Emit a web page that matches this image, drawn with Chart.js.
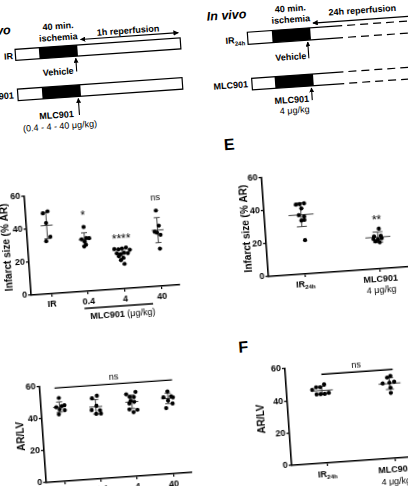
<!DOCTYPE html>
<html>
<head>
<meta charset="utf-8">
<title>MLC901 infarct size</title>
<script src="https://cdn.jsdelivr.net/npm/chart.js@4.4.1/dist/chart.umd.min.js"></script>
<style>
  html, body { margin: 0; padding: 0; background: #fff; overflow: hidden; }
  body { width: 408px; height: 486px; position: relative; }
  /* the whole figure sits slightly tilted in the reference */
  #page { position: absolute; left: 0; top: 0; width: 408px; height: 486px;
          transform-origin: 204px 243px; transform: rotate(-4deg); }
  .box { position: absolute; }
  #scheme { position: absolute; left: 0; top: 0; overflow: visible; }
  #scheme text { font-family: "Liberation Sans", Arial, sans-serif; font-size: 9px; font-weight: bold; fill: #000; }
  #scheme .plain { font-weight: normal; }
</style>
</head>
<body>
<div id="page">
  <svg id="scheme" width="408" height="360">
    <defs>
      <marker id="head" viewBox="0 0 10 10" refX="9" refY="5" markerWidth="4.5" markerHeight="4.5" orient="auto-start-reverse">
        <path d="M0,0 L10,5 L0,10 z" fill="#000"/>
      </marker>
    </defs>
    <!-- left protocol -->
    <text x="26" y="21" text-anchor="end" style="font-size:12.5px;font-style:italic">In vivo</text>
    <text x="73.5" y="19.5" text-anchor="middle">40 min.</text>
    <text x="73" y="30.8" text-anchor="middle">ischemia</text>
    <text x="143" y="28.7" text-anchor="middle">1h reperfusion</text>
    <line x1="95" y1="31.4" x2="193" y2="31.4" stroke="#000" stroke-width="1.2" marker-start="url(#head)" marker-end="url(#head)"/>
    <text x="26.5" y="46.2" text-anchor="end">IR</text>
    <rect x="29" y="36.7" width="165.5" height="11" fill="#fff" stroke="#000" stroke-width="1.2"/>
    <rect x="52.8" y="36.7" width="38.5" height="11" fill="#000"/>
    <line x1="89" y1="63" x2="89" y2="49.8" stroke="#000" stroke-width="1.1" marker-end="url(#head)"/>
    <text x="86" y="65.1" text-anchor="end">Vehicle</text>
    <text x="24.5" y="85.5" text-anchor="end">MLC901</text>
    <rect x="28.6" y="76.5" width="165" height="11.5" fill="#fff" stroke="#000" stroke-width="1.2"/>
    <rect x="53" y="76.5" width="38.6" height="11.5" fill="#000"/>
    <line x1="88.7" y1="106.6" x2="88.7" y2="90" stroke="#000" stroke-width="1.1" marker-end="url(#head)"/>
    <text x="65.9" y="108.2" text-anchor="middle">MLC901</text>
    <text class="plain" x="68.5" y="119.4" text-anchor="middle">(0.4 - 4 - 40 μg/kg)</text>

    <!-- right protocol -->
    <text x="222.6" y="21.5" style="font-size:12.5px;font-style:italic">In vivo</text>
    <text x="306.5" y="18.1" text-anchor="middle">40 min.</text>
    <text x="306.1" y="29.1" text-anchor="middle">ischemia</text>
    <text x="378.2" y="24.8" text-anchor="middle">24h reperfusion</text>
    <line x1="328" y1="31.2" x2="445" y2="31.2" stroke="#000" stroke-width="1.2" marker-start="url(#head)" marker-end="url(#head)"/>
    <text x="259" y="46" text-anchor="end">IR<tspan dy="2.5" style="font-size:6px">24h</tspan></text>
    <path d="M357,35.8 H261.9 V47.8 H357" fill="#fff" stroke="#000" stroke-width="1.2"/>
    <path d="M357,35.8 H445 M357,47.8 H445" fill="none" stroke="#000" stroke-width="1.2" stroke-dasharray="8 5" stroke-dashoffset="-5"/>
    <rect x="286.4" y="35.8" width="38.5" height="12" fill="#000"/>
    <line x1="321.5" y1="66" x2="321.5" y2="49.8" stroke="#000" stroke-width="1.1" marker-end="url(#head)"/>
    <text x="319" y="66.4" text-anchor="end">Vehicle</text>
    <text x="259" y="90.7" text-anchor="end">MLC901</text>
    <path d="M355,82 H263 V93.7 H355" fill="#fff" stroke="#000" stroke-width="1.2"/>
    <path d="M355,82 H445 M355,93.7 H445" fill="none" stroke="#000" stroke-width="1.2" stroke-dasharray="8 5" stroke-dashoffset="-5"/>
    <rect x="286" y="82" width="38.5" height="11.7" fill="#000"/>
    <line x1="322" y1="108" x2="322" y2="95.8" stroke="#000" stroke-width="1.1" marker-end="url(#head)"/>
    <text x="301.5" y="109.4" text-anchor="middle">MLC901</text>
    <text class="plain" x="303.7" y="119.9" text-anchor="middle">4 μg/kg</text>

    <text x="236" y="151.8" text-anchor="middle" style="font-size:16px">E</text>
    <text x="236" y="355" text-anchor="middle" style="font-size:16px">F</text>
  </svg>

  <div class="box"><canvas id="doseInfarct"></canvas></div>
  <div class="box"><canvas id="longInfarct"></canvas></div>
  <div class="box"><canvas id="doseArea"></canvas></div>
  <div class="box"><canvas id="longArea"></canvas></div>
</div>

<script>
const FONT = '"Liberation Sans", Arial, sans-serif'

// ===== infarct size by MLC901 dose (1h reperfusion) =====
const doseLabels = ["IR", "0.4", "4", "40"]
const infarctByDose = [
  [50, 49, 43, 34.5, 32],
  [39, 31.6, 32.2, 32, 30.2, 28.2, 27.2],
  [24.3, 24.0, 24.4, 24.8, 23.3, 21.6, 21.0, 21.8, 21.3, 19.8, 18.7, 17.4, 15.0],
  [45.9, 36.6, 33.1, 32.5, 31, 22.7]
]
const infarctByDoseJitter = [
  [0.05, -0.08, -0.01, 0.08, -0.04],
  [0.0, -0.08, 0.05, 0.13, 0.0, 0.03, -0.02],
  [-0.21, -0.1, 0.0, 0.11, 0.21, -0.15, -0.05, 0.05, 0.15, -0.1, 0.02, -0.05, 0.04],
  [-0.01, 0.04, -0.08, -0.02, 0.07, 0.03]
]
const infarctByDoseMean = [41.5, 31.5, 21.3, 34]
const infarctByDoseSD = [8, 4, 3, 7.6]
const infarctByDoseStars = ["", "*", "****", "ns"]
const infarctByDoseStarLevel = [null, 47.8, 32.1, 53.6]

// ===== infarct size after 24h reperfusion (E) =====
const longLabels = ["IR", "MLC901"]
const longLabelSubs = ["24h", ""]
const longLabelNotes = ["", "4 μg/kg"]
const infarctLong = [
  [42.3, 42.5, 42.8, 39.8, 35.8, 34.8, 32.5, 32.8, 20.5],
  [24.3, 19.8, 20.0, 18.2, 17.8, 18.4, 16.8, 16.0]
]
const infarctLongJitter = [
  [-0.06, -0.01, 0.05, 0.01, -0.03, 0.04, 0.0, 0.04, 0.03],
  [0.02, -0.05, 0.04, -0.06, 0.0, 0.05, -0.035, 0.02]
]
const infarctLongMean = [36, 19.2]
const infarctLongSD = [7.2, 3.2]
const infarctLongStars = ["", "**"]
const infarctLongStarLevel = [null, 31.6]

// ===== AR/LV by dose =====
const areaByDose = [
  [52.2, 46.5, 47, 47.5, 45, 44.3, 42],
  [51.9, 50.5, 45.7, 43.2, 42.8, 40.7, 40.7],
  [51.5, 52.6, 49.8, 49.5, 47.3, 45.7, 46.5, 42, 41.4, 40.1],
  [51.5, 48, 48.4, 47.6, 45.8, 43.8, 41.2]
]
const areaByDoseJitter = [
  [0, -0.09, 0.065, 0.14, 0, 0.14, -0.03],
  [0.05, -0.09, 0.02, -0.12, 0.11, 0, 0.13],
  [-0.14, 0.12, -0.05, 0.065, -0.03, -0.07, 0.065, -0.08, 0.14, 0.03],
  [0, -0.12, 0.09, 0.14, 0.0, 0.12, -0.065]
]
const areaByDoseMean = [46.5, 45.1, 46.6, 47.2]
const areaByDoseSD = [3.2, 4.5, 4.2, 3.3]
const areaByDoseNs = { from: -0.1, to: 3.15, level: 58.5, textAt: 1.55, textLevel: 62.6 }

// ===== AR/LV after 24h reperfusion (F) =====
const areaLong = [
  [45.7, 47.1, 47.0, 48.6, 42.7, 42.7, 42.7, 43.2],
  [50.9, 50.1, 46.6, 46.8, 47.2, 43.7, 40.5]
]
const areaLongJitter = [
  [-0.14, -0.08, -0.02, 0.04, -0.08, -0.02, 0.04, 0.1],
  [0.02, -0.03, -0.1, 0, 0.07, 0.01, 0.01]
]
const areaLongMean = [44.9, 46.3]
const areaLongSD = [2.5, 3.6]
const areaLongNs = { from: 0.01, to: 1.06, level: 54.9, textAt: 0.53, textLevel: 58.9 }

const doseCaption = { from: 0.87, to: 2.74, center: 1.9, bold: "MLC901", rest: " (μg/kg)" }

// draws mean / SD, tick labels and significance marks
function overlay(cfg) {
  return {
    id: 'overlay',
    beforeDatasetsDraw(chart) {
      const { ctx, scales: { x, y } } = chart
      ctx.save()
      ctx.strokeStyle = '#444'
      ctx.lineWidth = 1
      cfg.mean.forEach((m, g) => {
        const cx = x.getPixelForValue(g)
        const my = y.getPixelForValue(m)
        const top = y.getPixelForValue(m + cfg.sd[g])
        const bot = y.getPixelForValue(m - cfg.sd[g])
        ctx.beginPath()
        ctx.moveTo(cx - cfg.meanHalf, my); ctx.lineTo(cx + cfg.meanHalf, my)
        ctx.moveTo(cx, top); ctx.lineTo(cx, bot)
        ctx.moveTo(cx - cfg.capHalf, top); ctx.lineTo(cx + cfg.capHalf, top)
        ctx.moveTo(cx - cfg.capHalf, bot); ctx.lineTo(cx + cfg.capHalf, bot)
        ctx.stroke()
      })
      ctx.restore()
    },
    afterDraw(chart) {
      const { ctx, chartArea, scales: { x, y } } = chart
      ctx.save()
      ctx.fillStyle = '#000'
      ctx.strokeStyle = '#000'

      // category labels under the axis
      cfg.labels.forEach((t, g) => {
        const px = x.getPixelForValue(g)
        const py = chartArea.bottom + cfg.labelDy
        const sub = cfg.subs ? cfg.subs[g] : ''
        ctx.textBaseline = 'middle'
        ctx.font = `bold 9px ${FONT}`
        if (sub) {
          const w1 = ctx.measureText(t).width
          ctx.font = `bold 6px ${FONT}`
          const w2 = ctx.measureText(sub).width
          const x0 = px - (w1 + w2) / 2
          ctx.textAlign = 'left'
          ctx.font = `bold 9px ${FONT}`
          ctx.fillText(t, x0, py)
          ctx.font = `bold 6px ${FONT}`
          ctx.fillText(sub, x0 + w1, py + 2.5)
        } else {
          ctx.textAlign = 'center'
          ctx.fillText(t, px, py)
        }
        if (cfg.notes && cfg.notes[g]) {
          ctx.font = `9px ${FONT}`
          ctx.textAlign = 'center'
          ctx.fillText(cfg.notes[g], px, py + cfg.noteDy)
        }
      })

      // "MLC901 (ug/kg)" bracket under the dose groups
      if (cfg.caption) {
        const c = cfg.caption
        const ly = chartArea.bottom + 17
        ctx.lineWidth = 1.3
        ctx.beginPath()
        ctx.moveTo(x.getPixelForValue(c.from), ly)
        ctx.lineTo(x.getPixelForValue(c.to), ly)
        ctx.stroke()
        ctx.font = `bold 9px ${FONT}`
        const w1 = ctx.measureText(c.bold).width
        ctx.font = `9px ${FONT}`
        const w2 = ctx.measureText(c.rest).width
        const x0 = x.getPixelForValue(c.center) - (w1 + w2) / 2
        const cy = chartArea.bottom + 25.6
        ctx.textAlign = 'left'
        ctx.textBaseline = 'middle'
        ctx.font = `bold 9px ${FONT}`
        ctx.fillText(c.bold, x0, cy)
        ctx.font = `9px ${FONT}`
        ctx.fillText(c.rest, x0 + w1, cy)
      }

      // stars / ns above the groups
      if (cfg.stars) {
        cfg.stars.forEach((s, g) => {
          if (!s) return
          const px = x.getPixelForValue(g)
          const py = y.getPixelForValue(cfg.starLevel[g])
          ctx.textAlign = 'center'
          if (s === 'ns') {
            ctx.font = `9px ${FONT}`
            ctx.textBaseline = 'middle'
            ctx.fillText(s, px, py)
          } else {
            ctx.font = `12px ${FONT}`
            ctx.textBaseline = 'alphabetic'
            ctx.fillText(s, px, py + 6.8)
          }
        })
      }

      // ns bar over all groups
      if (cfg.ns) {
        const n = cfg.ns
        const ly = y.getPixelForValue(n.level)
        ctx.lineWidth = 1.4
        ctx.beginPath()
        ctx.moveTo(x.getPixelForValue(n.from), ly)
        ctx.lineTo(x.getPixelForValue(n.to), ly)
        ctx.stroke()
        ctx.font = `9px ${FONT}`
        ctx.textAlign = 'center'
        ctx.textBaseline = 'middle'
        ctx.fillText('ns', x.getPixelForValue(n.textAt), y.getPixelForValue(n.textLevel))
      }
      ctx.restore()
    }
  }
}

function dotChart(id, cfg) {
  const canvas = document.getElementById(id)
  const a = cfg.area, p = cfg.pad
  const box = canvas.parentElement
  box.style.left = (a.left - p.l) + 'px'
  box.style.top = (a.top - p.t) + 'px'
  box.style.width = (a.right - a.left + p.l + p.r) + 'px'
  box.style.height = (a.bottom - a.top + p.t + p.b) + 'px'

  const points = []
  cfg.values.forEach((vals, g) => {
    vals.forEach((v, k) => points.push({ x: g + cfg.jitter[g][k], y: v }))
  })

  const axisGrid = { drawOnChartArea: false, drawTicks: true, tickLength: 3, color: '#000', lineWidth: 1.2 }
  const axisBorder = { color: '#000', width: 1.6 }

  return new Chart(canvas, {
    type: 'scatter',
    data: {
      datasets: [{
        data: points,
        pointRadius: 2.1,
        pointHoverRadius: 2.1,
        pointBackgroundColor: '#000',
        pointBorderWidth: 0
      }]
    },
    options: {
      responsive: true,
      maintainAspectRatio: false,
      animation: false,
      events: [],
      layout: { padding: { top: p.t, right: p.r, left: 0, bottom: 0 } },
      plugins: { legend: { display: false }, tooltip: { enabled: false } },
      scales: {
        x: {
          type: 'linear',
          min: cfg.xMin,
          max: cfg.xMax,
          afterBuildTicks: s => { s.ticks = cfg.labels.map((_, i) => ({ value: i })) },
          afterFit: s => { s.height = p.b },
          ticks: { display: false },
          grid: axisGrid,
          border: axisBorder
        },
        y: {
          min: 0,
          max: 60,
          afterFit: s => { s.width = p.l },
          ticks: { stepSize: 20, color: '#000', padding: 1, font: { family: FONT, size: 9, weight: 'bold' } },
          grid: axisGrid,
          border: axisBorder,
          title: {
            display: true,
            text: cfg.yTitle,
            color: '#000',
            font: { family: FONT, size: 10, weight: 'bold' },
            padding: { top: cfg.titlePad, bottom: 0 }
          }
        }
      }
    },
    plugins: [overlay(cfg)]
  })
}

dotChart('doseInfarct', {
  area: { left: 28, top: 184, right: 177, bottom: 283 },
  pad: { l: 28, t: 10, r: 4, b: 36 },
  xMin: -0.55, xMax: 3.5,
  yTitle: 'Infarct size (% AR)', titlePad: 1.2,
  labels: doseLabels, labelDy: 10.3,
  values: infarctByDose, jitter: infarctByDoseJitter,
  mean: infarctByDoseMean, sd: infarctByDoseSD,
  meanHalf: 6, capHalf: 3,
  stars: infarctByDoseStars, starLevel: infarctByDoseStarLevel,
  caption: doseCaption
})

dotChart('longInfarct', {
  area: { left: 266, top: 182, right: 425, bottom: 281 },
  pad: { l: 28, t: 10, r: 0, b: 36 },
  xMin: -0.49, xMax: 1.6,
  yTitle: 'Infarct size (% AR)', titlePad: 3.7,
  labels: longLabels, subs: longLabelSubs, notes: longLabelNotes, labelDy: 10.5, noteDy: 11,
  values: infarctLong, jitter: infarctLongJitter,
  mean: infarctLongMean, sd: infarctLongSD,
  meanHalf: 12.5, capHalf: 5,
  stars: infarctLongStars, starLevel: infarctLongStarLevel
})

dotChart('doseArea', {
  area: { left: 30, top: 375, right: 176, bottom: 471 },
  pad: { l: 28, t: 18, r: 4, b: 36 },
  xMin: -0.507, xMax: 3.52,
  yTitle: 'AR/LV', titlePad: 0,
  labels: doseLabels, labelDy: 10.2,
  values: areaByDose, jitter: areaByDoseJitter,
  mean: areaByDoseMean, sd: areaByDoseSD,
  meanHalf: 6.5, capHalf: 3,
  ns: areaByDoseNs,
  caption: doseCaption
})

dotChart('longArea', {
  area: { left: 276, top: 374, right: 429, bottom: 471 },
  pad: { l: 34, t: 18, r: 0, b: 36 },
  xMin: -0.518, xMax: 1.7,
  yTitle: 'AR/LV', titlePad: 1.2,
  labels: longLabels, subs: longLabelSubs, notes: longLabelNotes, labelDy: 12, noteDy: 11.5,
  values: areaLong, jitter: areaLongJitter,
  mean: areaLongMean, sd: areaLongSD,
  meanHalf: 11, capHalf: 4,
  ns: areaLongNs
})
</script>
</body>
</html>
